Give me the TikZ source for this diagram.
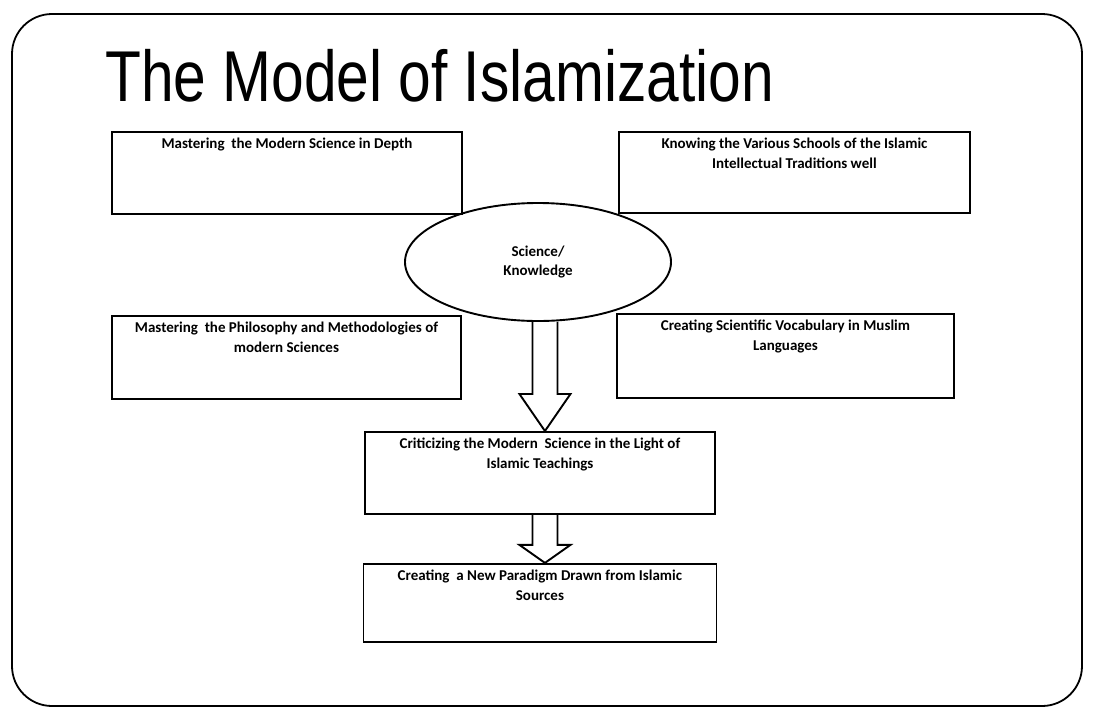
\documentclass[tikz,border=0pt]{standalone}
\usepackage{fontspec}
\setmainfont{Carlito}
\newfontfamily\titlefont{Liberation Sans}
\usetikzlibrary{shapes.geometric, positioning, calc}

% text of a box, set at its top
\newcommand{\boxtxt}[3]{\parbox[c][#2][t]{#1}{\centering\rule{0pt}{17pt}#3}}
% hollow block arrow: from, to, head length
\newcommand{\blockarrow}[3]{%
  \draw[hollow] let \p1=(#1), \p2=(#2) in
    (\x2-12.5pt,\y1) -- (\x2-12.5pt,\y2+#3) -- (\x2-25.5pt,\y2+#3) -- (\x2,\y2)
    -- (\x2+25.5pt,\y2+#3) -- (\x2+12.5pt,\y2+#3) -- (\x2+12.5pt,\y1);}

\begin{document}
\begin{tikzpicture}[
    x=1pt, y=-1pt,
    box/.style={rectangle, draw=black, line width=1.9pt, inner sep=0pt, anchor=north west,
      font=\bfseries\fontsize{15}{19.5}\selectfont},
    cloud/.style={ellipse, draw=black, line width=1.9pt, inner sep=0pt, align=center,
      minimum width=266pt, minimum height=118pt, font=\bfseries\fontsize{15}{19.5}\selectfont},
    hollow/.style={line width=1.9pt, line join=miter},
    frame/.style={line width=1.8pt, rounded corners=40pt}
]
\useasboundingbox (0,0) rectangle (1093,713);
\draw[frame] (12,14) rectangle (1082,706);

\node[anchor=base west, inner sep=0pt, font=\titlefont\fontsize{72}{76}\selectfont] (title) at (105,101) {\scalebox{0.815}[1]{The Model of Islamization}};

\node[box] (depth) at (111,131) {\boxtxt{350pt}{82pt}{Mastering\ \ the Modern Science in Depth}};
\node[box] (schools) at (618,131) {\boxtxt{351pt}{81pt}{Knowing the Various Schools of the Islamic\\Intellectual Traditions well}};
\node[box] (method) at (111,315) {\boxtxt{349pt}{83pt}{Mastering\ \ the Philosophy and Methodologies of\\modern Sciences}};
\node[box] (vocab) at (616,313) {\boxtxt{337pt}{84pt}{Creating Scientific Vocabulary in Muslim\\Languages}};
\node[cloud] (know) at (538,262) {Science/\\Knowledge};
\node[box] (crit) at (364,431) {\boxtxt{350pt}{82pt}{Criticizing the Modern\ \ Science in the Light of\\Islamic Teachings}};
\node[box, anchor=north, below=48pt of crit] (para) {\boxtxt{353pt}{78pt}{Creating\ \ a New Paradigm Drawn from Islamic\\Sources}};

\blockarrow{know.south}{$(crit.north)+(5,0)$}{37pt}
\blockarrow{crit.south}{$(para.north)+(5,0)$}{18pt}
\end{tikzpicture}
\end{document}
